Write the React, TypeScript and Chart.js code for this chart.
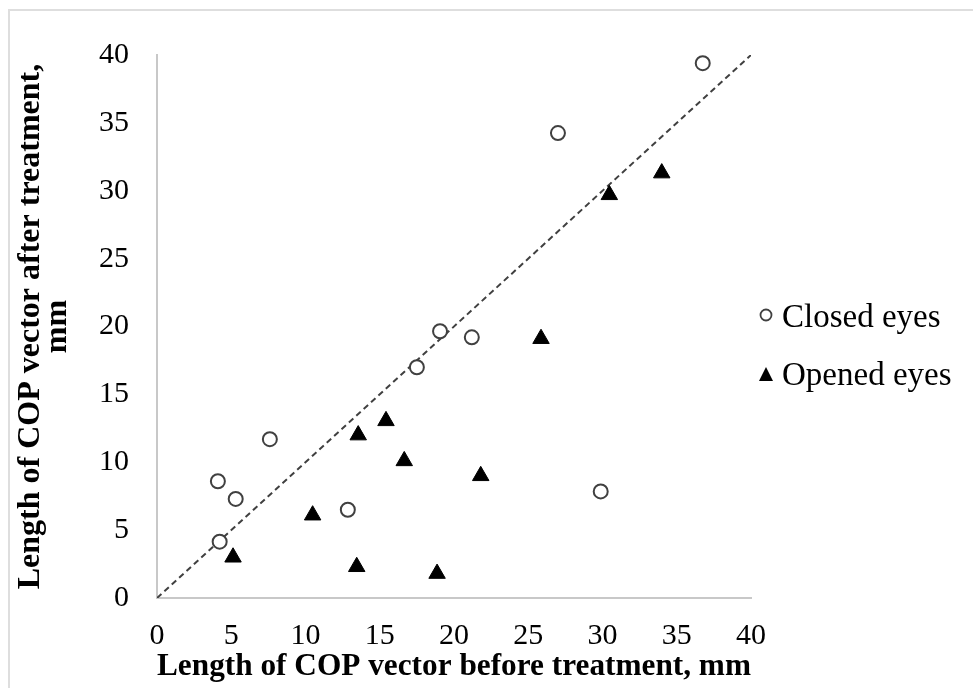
import React, { useEffect, useRef } from 'react';
import { Chart, registerables } from 'chart.js';

Chart.register(...registerables);

// Closed eyes (circles)
const closedX = [36.75, 27.0, 19.06, 21.2, 17.5, 7.6, 4.1, 5.3, 12.85, 4.22, 29.88];
const closedY = [39.4, 34.25, 19.65, 19.2, 17.0, 11.7, 8.6, 7.3, 6.5, 4.15, 7.85];

// Opened eyes (triangles)
const openedX = [13.55, 15.42, 16.65, 21.8, 10.48, 5.12, 13.45, 18.86, 33.99, 30.46, 25.86];
const openedY = [12.0, 13.05, 10.1, 9.0, 6.1, 3.0, 2.3, 1.8, 31.3, 29.7, 19.1];

// y = x reference line
const diagonalX = [0, 40];
const diagonalY = [0, 40];

const axisMin = 0;
const axisMax = 40;
const axisStep = 5;

const seriesNames = ['Closed eyes', 'Opened eyes'];
const xTitle = 'Length of COP vector before treatment, mm';
const yTitle = ['Length of COP vector after treatment,', 'mm'];

const FONT = "'Liberation Serif', 'Times New Roman', serif";

export default function App() {
  const canvasRef = useRef<HTMLCanvasElement | null>(null);

  useEffect(() => {
    if (!canvasRef.current) return;
    const toPts = (xs: number[], ys: number[]) => xs.map((x, i) => ({ x, y: ys[i] }));
    const chart = new Chart(canvasRef.current, {
      type: 'scatter',
      data: {
        datasets: [
          {
            label: seriesNames[0],
            data: toPts(closedX, closedY),
            pointStyle: 'circle',
            pointRadius: 7,
            backgroundColor: '#ffffff',
            borderColor: '#404040',
            borderWidth: 2,
          },
          {
            label: seriesNames[1],
            data: toPts(openedX, openedY),
            pointStyle: 'triangle',
            pointRadius: 9.5,
            backgroundColor: '#000000',
            borderColor: '#000000',
            borderWidth: 1,
          },
          {
            type: 'line',
            label: 'y = x',
            data: toPts(diagonalX, diagonalY),
            borderColor: '#404040',
            borderWidth: 2,
            borderDash: [6, 4],
            pointRadius: 0,
            fill: false,
            showLine: true,
          } as any,
        ],
      },
      options: {
        animation: false,
        responsive: false,
        maintainAspectRatio: false,
        layout: { padding: { top: 55, right: 222, left: 0, bottom: 0 } },
        plugins: {
          legend: { display: false },
          tooltip: { enabled: false },
        },
        scales: {
          x: {
            type: 'linear',
            min: axisMin,
            max: axisMax,
            grid: { display: false, drawTicks: false },
            border: { display: true, color: '#c8c8c8', width: 2 },
            ticks: {
              stepSize: axisStep,
              color: '#000',
              padding: 20,
              font: { family: FONT, size: 30 },
            },
            title: {
              display: true,
              text: xTitle,
              color: '#000',
              font: { family: FONT, size: 31.5, weight: 'bold' },
              padding: { top: 0, bottom: 2 },
            },
            afterFit: (scale: any) => {
              scale.height = 90;
            },
          },
          y: {
            type: 'linear',
            min: axisMin,
            max: axisMax,
            grid: { display: false, drawTicks: false },
            border: { display: true, color: '#c8c8c8', width: 2 },
            ticks: {
              stepSize: axisStep,
              color: '#000',
              padding: 28,
              font: { family: FONT, size: 30 },
            },
            title: {
              display: true,
              text: yTitle,
              color: '#000',
              font: { family: FONT, size: 32, weight: 'bold', lineHeight: 0.85 },
              padding: { top: 17, bottom: 0 },
            },
            afterFit: (scale: any) => {
              scale.width = 157;
            },
          },
        },
      },
    });
    return () => chart.destroy();
  }, []);

  const legendText: React.CSSProperties = {
    position: 'absolute',
    left: 782,
    fontFamily: FONT,
    fontSize: 33,
    lineHeight: '40px',
    color: '#000',
    whiteSpace: 'nowrap',
  };

  return (
    <div
      style={{
        position: 'absolute',
        left: 0,
        top: 0,
        width: 973,
        height: 688,
        overflow: 'hidden',
        background: '#fff',
      }}
    >
      <div
        style={{
          position: 'absolute',
          left: 8,
          top: 9,
          width: 1100,
          height: 800,
          borderTop: '2px solid #dedede',
          borderLeft: '2px solid #dedede',
        }}
      />
      <canvas
        ref={canvasRef}
        width={973}
        height={688}
        style={{ position: 'absolute', left: 0, top: 0, width: 973, height: 688 }}
      />
      <svg
        width={20}
        height={20}
        style={{ position: 'absolute', left: 756, top: 305 }}
      >
        <circle cx={10} cy={10} r={5.5} fill="#fff" stroke="#404040" strokeWidth={1.8} />
      </svg>
      <div style={{ ...legendText, top: 296 }}>{seriesNames[0]}</div>
      <svg
        width={20}
        height={20}
        style={{ position: 'absolute', left: 756, top: 365 }}
      >
        <polygon points="10,2 17,16 3,16" fill="#000" />
      </svg>
      <div style={{ ...legendText, top: 354 }}>{seriesNames[1]}</div>
    </div>
  );
}
